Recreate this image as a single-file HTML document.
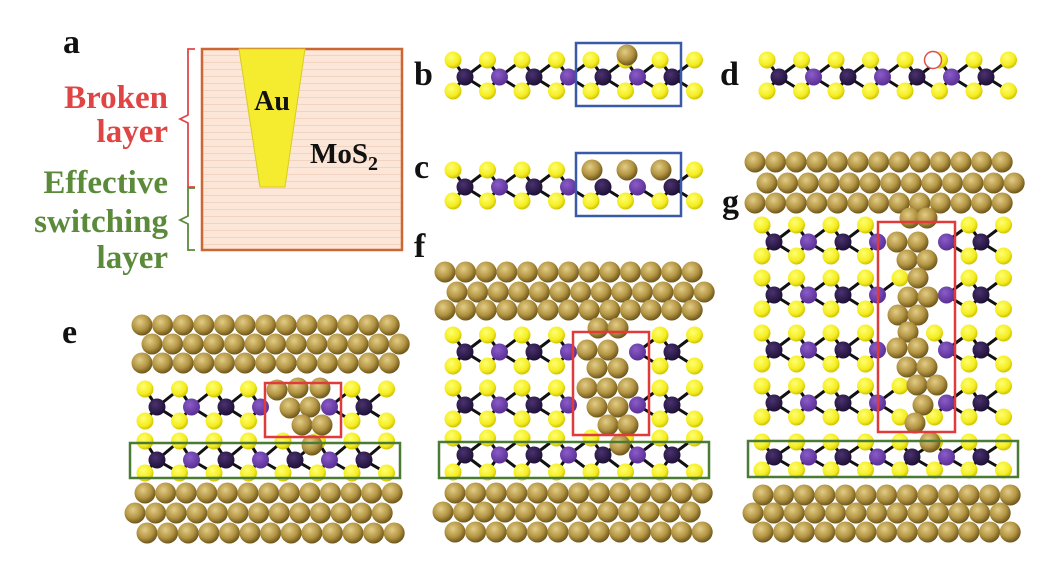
<!DOCTYPE html>
<html><head><meta charset="utf-8"><style>
html,body{margin:0;padding:0;background:#fff;}
svg{display:block;}
.lab{font-family:"Liberation Serif",serif;font-weight:bold;font-size:34px;fill:#111;}
.t{font-family:"Liberation Serif",serif;font-weight:bold;font-size:33px;text-anchor:end;}
</style></head><body>
<svg id="s" width="1040" height="568" viewBox="0 0 1040 568" xmlns="http://www.w3.org/2000/svg">
<defs>
<radialGradient id="au" cx="0.4" cy="0.35" r="0.65"><stop offset="0" stop-color="#e2cc86"/><stop offset="0.6" stop-color="#b39543"/><stop offset="1" stop-color="#6e561c"/></radialGradient>
<radialGradient id="su" cx="0.4" cy="0.35" r="0.65"><stop offset="0" stop-color="#ffff70"/><stop offset="0.7" stop-color="#f4ec20"/><stop offset="1" stop-color="#cfc400"/></radialGradient>
<radialGradient id="mo1" cx="0.4" cy="0.35" r="0.65"><stop offset="0" stop-color="#4a3270"/><stop offset="1" stop-color="#1e1036"/></radialGradient>
<radialGradient id="mo2" cx="0.4" cy="0.35" r="0.65"><stop offset="0" stop-color="#8a5cc8"/><stop offset="1" stop-color="#5a2f94"/></radialGradient>
<pattern id="stripes" width="10" height="7" patternUnits="userSpaceOnUse"><rect width="10" height="7" fill="#fbe6d8"/><rect y="6" width="10" height="1" fill="#f2d3c2"/></pattern>
</defs>
<!-- panel a -->
<rect x="202" y="49" width="200" height="201" fill="url(#stripes)" stroke="#cc6633" stroke-width="2.5"/>
<polygon points="239,49 305,49 285,187 260,187" fill="#f5ec30" stroke="#d8cc20" stroke-width="1"/>
<text x="272" y="110" text-anchor="middle" style="font-family:'Liberation Serif',serif;font-weight:bold;font-size:28px" fill="#111">Au</text>
<text x="310" y="163" style="font-family:'Liberation Serif',serif;font-weight:bold;font-size:29px" fill="#111">MoS<tspan dy="7" font-size="20">2</tspan></text>
<path d="M195,49 H188 V115 L180,119 L188,123 V187 H195" fill="none" stroke="#e04848" stroke-width="1.8"/>
<path d="M195,188 H188 V216 L180,220 L188,224 V250 H195" fill="none" stroke="#5a8a3a" stroke-width="1.8"/>
<text class="t" x="168" y="108" fill="#e04545">Broken</text>
<text class="t" x="168" y="142" fill="#e04545">layer</text>
<text class="t" x="168" y="193" fill="#5a8a3a">Effective</text>
<text class="t" x="168" y="232" fill="#5a8a3a">switching</text>
<text class="t" x="168" y="268" fill="#5a8a3a">layer</text>
<text class="lab" x="63" y="53">a</text>
<text class="lab" x="414" y="85">b</text>
<text class="lab" x="414" y="178">c</text>
<text class="lab" x="720" y="85">d</text>
<text class="lab" x="62" y="343">e</text>
<text class="lab" x="414" y="257">f</text>
<text class="lab" x="722" y="213">g</text>
<g id="atoms"></g>
</svg>
<script>
var g=document.getElementById('atoms'),NS='http://www.w3.org/2000/svg',bonds=[],balls=[];
function C(x,y,r,f){balls.push([x,y,r,f]);}
function L(x1,y1,x2,y2){bonds.push([x1,y1,x2,y2]);}
// layer: sx0 first S x, ymo, missing sets
function layer(sx0,ymo,opt){opt=opt||{};var sp=34.5,dt=opt.dt||17,db=opt.db||14;
 var mt=opt.mt||[],mb=opt.mb||[],mm=opt.mm||[];
 for(var i=0;i<8;i++){var x=sx0+i*sp;
  if(mt.indexOf(i)<0)C(x,ymo-dt,8.5,'url(#su)');
  if(mb.indexOf(i)<0)C(x,ymo+db,8.5,'url(#su)');}
 for(var j=0;j<7;j++){if(mm.indexOf(j)>=0)continue;var x=sx0+12+j*sp;
  var l=sx0+j*sp,r=sx0+(j+1)*sp;
  if(mt.indexOf(j)<0)L(x,ymo,l,ymo-dt); if(mb.indexOf(j)<0)L(x,ymo,l,ymo+db);
  if(mt.indexOf(j+1)<0)L(x,ymo,r,ymo-dt); if(mb.indexOf(j+1)<0)L(x,ymo,r,ymo+db);
  C(x,ymo,8.5,j%2?'url(#mo2)':'url(#mo1)');}
}
function aurow(x0,y,n){for(var i=0;i<(n||13);i++)C(x0+i*20.6,y,10.5,'url(#au)');}
// b,c,d
layer(453,77);
layer(453,187,{mt:[4,5,6]});
layer(767,77);
// e
aurow(142,325);aurow(152,344);aurow(142,363);
layer(145,407,{mt:[4,5],mb:[4,5],mm:[4],dt:18,db:14});
layer(145,460,{dt:19,db:13});
aurow(145,493);aurow(135,513);aurow(147,533);
// f
aurow(445,272);aurow(457,292);aurow(445,310);
layer(453,352,{mt:[4,5],mb:[4,5],mm:[4]});
layer(453,405,{mt:[4,5],mb:[4,5],mm:[4]});
layer(453,455,{dt:17,db:17});
aurow(455,493);aurow(443,512);aurow(455,532);
// g
aurow(755,162);aurow(767,183);aurow(755,203);
layer(762,242,{mt:[4,5],mb:[4,5],mm:[4]});
layer(762,295,{mt:[5],mb:[4,5],mm:[4]});
layer(762,350,{mt:[4],mb:[4,5],mm:[4]});
layer(762,403,{mt:[5],mm:[4]});
layer(762,457,{dt:15,db:13});
aurow(763,495);aurow(753,513);aurow(763,532);
// defect au
var Au=function(a){a.forEach(function(p){C(p[0],p[1],10.5,'url(#au)');});};
var gold=[];
// b/c gold
Au([[627,55]]);
Au([[592,170],[627,170],[661,170]]);
Au([[277,390],[298,388],[320,388],[290,408],[310,407],[302,425],[322,425],[312,445]]);
Au([[598,328],[618,328],[587,350],[608,350],[597,368],[618,368],[587,388],[607,388],[628,388],[597,407],[618,407],[608,425],[628,425],[620,445]]);
Au([[910,218],[927,218],[897,242],[918,242],[907,260],[927,260],[918,278],[908,297],[928,297],[898,315],[918,315],[908,332],[897,348],[918,348],[907,367],[927,367],[917,385],[937,385],[923,405],[915,423],[930,442]]);
var h='';
bonds.forEach(function(b){h+='<line x1="'+b[0]+'" y1="'+b[1]+'" x2="'+b[2]+'" y2="'+b[3]+'" stroke="#111" stroke-width="3"/>';});
balls.forEach(function(c){h+='<circle cx="'+c[0]+'" cy="'+c[1]+'" r="'+c[2]+'" fill="'+c[3]+'"/>';});
// boxes
h+='<rect x="576" y="43" width="105" height="63" fill="none" stroke="#3a5aa8" stroke-width="2.5"/>';
h+='<rect x="576" y="153" width="105" height="63" fill="none" stroke="#3a5aa8" stroke-width="2.5"/>';
h+='<circle cx="933" cy="60" r="8.5" fill="#fff" stroke="#e05050" stroke-width="1.5"/>';
h+='<rect x="265" y="383" width="76" height="54" fill="none" stroke="#e03a3a" stroke-width="2.5"/>';
h+='<rect x="573" y="332" width="76" height="103" fill="none" stroke="#e03a3a" stroke-width="2.5"/>';
h+='<rect x="878" y="222" width="77" height="210" fill="none" stroke="#e03a3a" stroke-width="2.5"/>';
h+='<rect x="130" y="443" width="270" height="35" fill="none" stroke="#4a7a34" stroke-width="2.5"/>';
h+='<rect x="439" y="442" width="270" height="36" fill="none" stroke="#4a7a34" stroke-width="2.5"/>';
h+='<rect x="748" y="441" width="270" height="36" fill="none" stroke="#4a7a34" stroke-width="2.5"/>';
g.innerHTML=h;
</script>
</body></html>
